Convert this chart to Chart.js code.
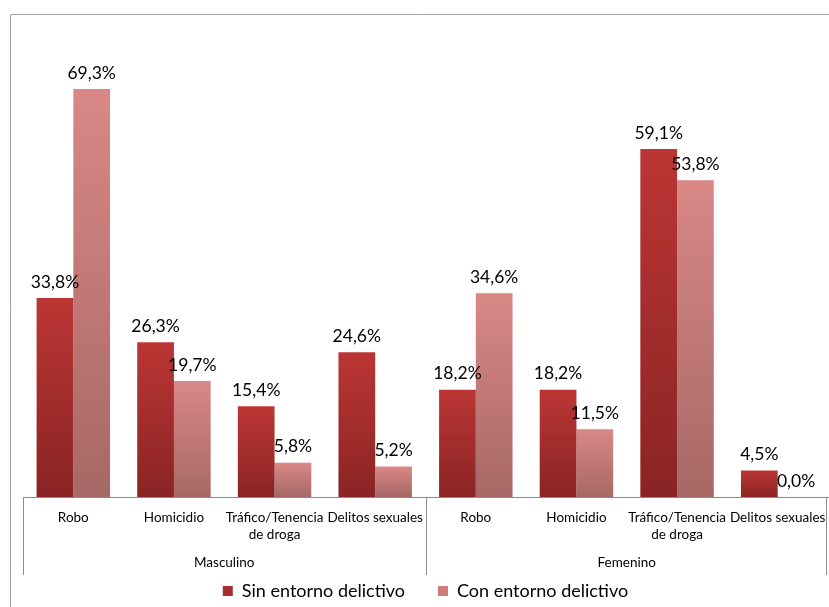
<!DOCTYPE html>
<html>
<head>
<meta charset="utf-8">
<script src="https://cdn.jsdelivr.net/npm/chart.js@4.4.1/dist/chart.umd.min.js"></script>
<style>
  html, body { margin: 0; padding: 0; background: #fff; }
  #wrap { width: 829px; height: 607px; position: relative; }
</style>
</head>
<body>
<div id="wrap"><canvas id="delitosChart"></canvas></div>
<script>
// Delitos por sexo y entorno
const categorias = ['Robo', 'Homicidio', ['Tráfico/Tenencia', 'de droga'], 'Delitos sexuales',
                    'Robo', 'Homicidio', ['Tráfico/Tenencia', 'de droga'], 'Delitos sexuales'];
const grupos = ['Masculino', 'Femenino'];
const sinEntorno = [33.8, 26.3, 15.4, 24.6, 18.2, 18.2, 59.1, 4.5];
const conEntorno = [69.3, 19.7, 5.8, 5.2, 34.6, 11.5, 53.8, 0.0];

const FONT = 'Lato, "Open Sans", sans-serif';

// vertical gradient per bar, from its top down to the baseline
function barGradient(top, bottom) {
    return function (context) {
        const chart = context.chart;
        const y = chart.scales.y;
        if (!y || context.raw === undefined) return bottom;
        const y0 = y.getPixelForValue(0);
        let y1 = y.getPixelForValue(context.raw);
        if (Math.abs(y0 - y1) < 1) y1 = y0 - 1;
        const g = chart.ctx.createLinearGradient(0, y1, 0, y0);
        g.addColorStop(0, top);
        g.addColorStop(1, bottom);
        return g;
    };
}

// value labels above each bar
const valueLabels = {
    id: 'valueLabels',
    afterDatasetsDraw(chart) {
        const ctx = chart.ctx;
        ctx.save();
        ctx.font = '17.5px ' + FONT;
        ctx.fillStyle = '#000';
        ctx.textAlign = 'center';
        ctx.textBaseline = 'middle';
        chart.data.datasets.forEach((ds, i) => {
            chart.getDatasetMeta(i).data.forEach((bar, j) => {
                const txt = ds.data[j].toFixed(1).replace('.', ',') + '%';
                ctx.fillText(txt, bar.x, bar.y - 16);
            });
        });
        ctx.restore();
    }
};

// outer frame, group separators and group names under the axis
const frameAndGroups = {
    id: 'frameAndGroups',
    afterDraw(chart) {
        const ctx = chart.ctx;
        const x = chart.scales.x;
        const bottom = x.top + 78;
        ctx.save();
        ctx.strokeStyle = '#a0a0a0';
        ctx.lineWidth = 1;
        ctx.beginPath();
        ctx.moveTo(10.5, chart.height);
        ctx.lineTo(10.5, 14.5);
        ctx.lineTo(chart.width, 14.5);
        ctx.stroke();

        const n = categorias.length;
        const per = n / grupos.length;
        const step = (x.right - x.left) / n;
        ctx.strokeStyle = '#8c8c8c';
        for (let g = 0; g <= grupos.length; g++) {
            const px = Math.round(x.left + g * per * step) - (g === grupos.length ? 1.5 : -0.5);
            ctx.beginPath();
            ctx.moveTo(px, x.top);
            ctx.lineTo(px, bottom);
            ctx.stroke();
        }
        ctx.font = '13.5px ' + FONT;
        ctx.fillStyle = '#000';
        ctx.textAlign = 'center';
        ctx.textBaseline = 'middle';
        grupos.forEach((name, g) => {
            const cx = x.left + (g + 0.5) * per * step;
            ctx.fillText(name, cx, bottom - 12);
        });
        ctx.restore();
    }
};

new Chart(document.getElementById('delitosChart'), {
    type: 'bar',
    data: {
        labels: categorias,
        datasets: [{
            label: 'Sin entorno delictivo',
            data: sinEntorno,
            backgroundColor: barGradient('#bb3634', '#8a2424'),
            borderWidth: 0
        }, {
            label: 'Con entorno delictivo',
            data: conEntorno,
            backgroundColor: barGradient('#d98886', '#a66866'),
            borderWidth: 0
        }]
    },
    options: {
        responsive: true,
        maintainAspectRatio: false,
        animation: false,
        categoryPercentage: 0.73,
        barPercentage: 1.0,
        layout: { padding: { left: 23, right: 1, top: 26, bottom: 0 } },
        plugins: {
            legend: {
                position: 'bottom',
                maxHeight: 58,
                labels: {
                    font: { family: FONT, size: 18 },
                    color: '#000',
                    boxWidth: 10,
                    boxHeight: 10,
                    padding: 33,
                    generateLabels(chart) {
                        const cols = ['#a82e2e', '#cf7c7b'];
                        return chart.data.datasets.map((ds, i) => ({
                            text: ds.label,
                            fillStyle: cols[i],
                            strokeStyle: cols[i],
                            lineWidth: 0,
                            datasetIndex: i
                        }));
                    }
                }
            },
            tooltip: { enabled: false }
        },
        scales: {
            x: {
                grid: { display: false, drawTicks: false },
                border: { display: true, color: '#8c8c8c' },
                ticks: {
                    font: { family: FONT, size: 13.5 },
                    color: '#000',
                    padding: 13,
                    maxRotation: 0,
                    autoSkip: false
                },
                afterFit(scale) {
                    scale.height = 52;
                    scale.paddingLeft = 0;
                    scale.paddingRight = 0;
                }
            },
            y: {
                display: false,
                min: 0,
                max: 80
            }
        }
    },
    plugins: [valueLabels, frameAndGroups]
});
</script>
</body>
</html>
